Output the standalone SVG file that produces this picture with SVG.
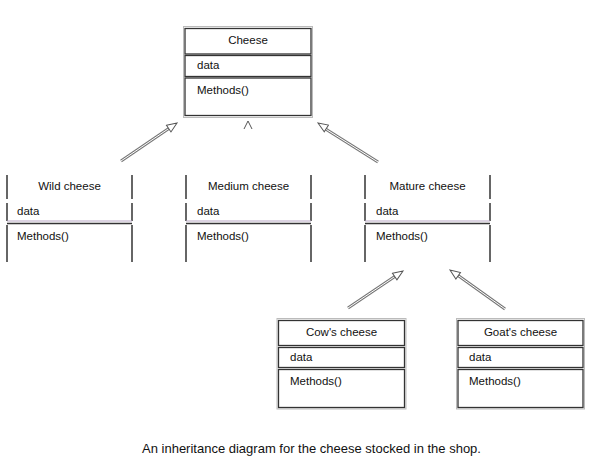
<svg xmlns="http://www.w3.org/2000/svg" width="593" height="462" viewBox="0 0 593 462">
<defs>
<style>
text{font-family:"Liberation Sans",Arial,sans-serif;font-size:11.5px;fill:#111}
.t{text-anchor:middle}
.cell{fill:none;stroke:#333;stroke-width:1.3}
.frame{fill:none;stroke:#bbb;stroke-width:1}
.v{stroke:#333;stroke-width:1.5}
.h{stroke:#333;stroke-width:1.3}
.hl{stroke:#b9a7c4;stroke-width:1}
.shaft{stroke:#777;stroke-width:3;fill:none}
.shaftin{stroke:#fff;stroke-width:1;fill:none}
.cap{font-size:13px;text-anchor:middle}
</style>
<marker id="tri" viewBox="0 0 12 10" refX="11" refY="5" markerWidth="12" markerHeight="10" markerUnits="userSpaceOnUse" orient="auto">
<path d="M1,1 L11,5 L1,9 Z" fill="#fff" stroke="#555" stroke-width="1"/>
</marker>
</defs>
<rect width="593" height="462" fill="#fff"/>

<g id="connectors">
<line class="shaft" x1="121" y1="161" x2="171" y2="127"/>
<line class="shaftin" x1="121" y1="161" x2="171" y2="127"/>
<line x1="121" y1="161" x2="177" y2="123" stroke="none" marker-end="url(#tri)"/>
<path d="M244,129 L248,121 L252,129" fill="none" stroke="#555" stroke-width="1"/>
<line class="shaft" x1="378" y1="162" x2="324" y2="128"/>
<line class="shaftin" x1="378" y1="162" x2="324" y2="128"/>
<line x1="378" y1="162" x2="318" y2="123" stroke="none" marker-end="url(#tri)"/>
<line class="shaft" x1="348" y1="308" x2="397" y2="275"/>
<line class="shaftin" x1="348" y1="308" x2="397" y2="275"/>
<line x1="348" y1="308" x2="403" y2="271" stroke="none" marker-end="url(#tri)"/>
<line class="shaft" x1="505" y1="309" x2="456" y2="274"/>
<line class="shaftin" x1="505" y1="309" x2="456" y2="274"/>
<line x1="505" y1="309" x2="450" y2="270" stroke="none" marker-end="url(#tri)"/>
</g>

<g id="cheese">
<rect class="frame" x="183.5" y="26.5" width="129" height="91"/>
<rect class="cell" x="185" y="28.5" width="126" height="25.5"/>
<rect class="cell" x="185" y="55.5" width="126" height="21"/>
<rect class="cell" x="185" y="78" width="126" height="37.5"/>
<text class="t" x="248" y="44">Cheese</text>
<text x="197" y="69">data</text>
<text x="197" y="94">Methods()</text>
</g>

<g id="wild">
<line class="v" x1="7" y1="175" x2="7" y2="199"/>
<line class="v" x1="7" y1="203" x2="7" y2="221"/>
<line class="v" x1="7" y1="225" x2="7" y2="262"/>
<line class="v" x1="132" y1="175" x2="132" y2="199"/>
<line class="v" x1="132" y1="203" x2="132" y2="221"/>
<line class="v" x1="132" y1="225" x2="132" y2="262"/>
<line class="hl" x1="7" y1="221" x2="132" y2="221"/>
<line class="h" x1="7" y1="223.5" x2="132" y2="223.5"/>
<text class="t" x="69.5" y="190">Wild cheese</text>
<text x="17" y="215">data</text>
<text x="17" y="240">Methods()</text>
</g>

<g id="medium">
<line class="v" x1="186" y1="175" x2="186" y2="199"/>
<line class="v" x1="186" y1="203" x2="186" y2="221"/>
<line class="v" x1="186" y1="225" x2="186" y2="262"/>
<line class="v" x1="311" y1="175" x2="311" y2="199"/>
<line class="v" x1="311" y1="203" x2="311" y2="221"/>
<line class="v" x1="311" y1="225" x2="311" y2="262"/>
<line class="hl" x1="186" y1="221" x2="311" y2="221"/>
<line class="h" x1="186" y1="223.5" x2="311" y2="223.5"/>
<text class="t" x="248.5" y="190">Medium cheese</text>
<text x="197" y="215">data</text>
<text x="197" y="240">Methods()</text>
</g>

<g id="mature">
<line class="v" x1="365" y1="175" x2="365" y2="199"/>
<line class="v" x1="365" y1="203" x2="365" y2="221"/>
<line class="v" x1="365" y1="225" x2="365" y2="262"/>
<line class="v" x1="490" y1="175" x2="490" y2="199"/>
<line class="v" x1="490" y1="203" x2="490" y2="221"/>
<line class="v" x1="490" y1="225" x2="490" y2="262"/>
<line class="hl" x1="365" y1="221" x2="490" y2="221"/>
<line class="h" x1="365" y1="223.5" x2="490" y2="223.5"/>
<text class="t" x="427.5" y="190">Mature cheese</text>
<text x="376" y="215">data</text>
<text x="376" y="240">Methods()</text>
</g>

<g id="cows">
<rect class="frame" x="277" y="318.5" width="129" height="90.5"/>
<rect class="cell" x="278.5" y="320.5" width="126" height="25"/>
<rect class="cell" x="278.5" y="347.5" width="126" height="20"/>
<rect class="cell" x="278.5" y="369.5" width="126" height="38"/>
<text class="t" x="341.5" y="336">Cow's cheese</text>
<text x="290" y="361">data</text>
<text x="290" y="385">Methods()</text>
</g>

<g id="goats">
<rect class="frame" x="456.5" y="318.5" width="128" height="90.5"/>
<rect class="cell" x="458" y="320.5" width="125" height="25"/>
<rect class="cell" x="458" y="347.5" width="125" height="20"/>
<rect class="cell" x="458" y="369.5" width="125" height="38"/>
<text class="t" x="520.5" y="336">Goat's cheese</text>
<text x="469" y="361">data</text>
<text x="469" y="385">Methods()</text>
</g>

<text class="cap" x="311.5" y="453">An inheritance diagram for the cheese stocked in the shop.</text>
</svg>
